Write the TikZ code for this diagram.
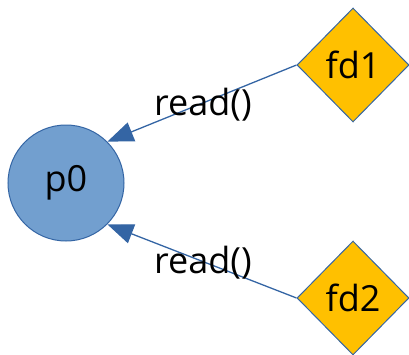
\documentclass[tikz,border=0pt]{standalone}
\usepackage{fontspec}
\setmainfont{Open Sans}
\usetikzlibrary{shapes.geometric,arrows.meta}
\definecolor{edgeblue}{HTML}{3465A4}
\definecolor{procfill}{HTML}{729FCF}
\definecolor{fdfill}{HTML}{FFC000}
\tikzset{
  proc/.style={circle,draw=edgeblue,fill=procfill,line width=1pt,minimum size=116pt,inner sep=0pt,font=\fontsize{36}{42}\selectfont},
  fdnode/.style={diamond,draw=edgeblue,fill=fdfill,line width=1pt,minimum width=112pt,minimum height=114pt,inner sep=0pt,font=\fontsize{36}{42}\selectfont},
  conn/.style={draw=edgeblue,line width=1.3pt,-{Triangle[length=26pt,width=20pt]}},
  lbl/.style={font=\fontsize{36}{42}\selectfont,inner sep=0pt}
}
\begin{document}
\begin{tikzpicture}[x=1pt,y=1pt]
\useasboundingbox (0,0) rectangle (409,354);
\node[proc] (p0) at (66,171) {p0};
\node[fdnode] (fd1) at (353,289) {fd1};
\node[fdnode] (fd2) at (353,56) {fd2};
\draw[conn] (fd1.west) -- (p0.45);
\draw[conn] (fd2.west) -- (p0.-45);
\node[lbl] (l1) at (203,249) {read()};
\node[lbl] (l2) at (203,91) {read()};
\end{tikzpicture}
\end{document}
